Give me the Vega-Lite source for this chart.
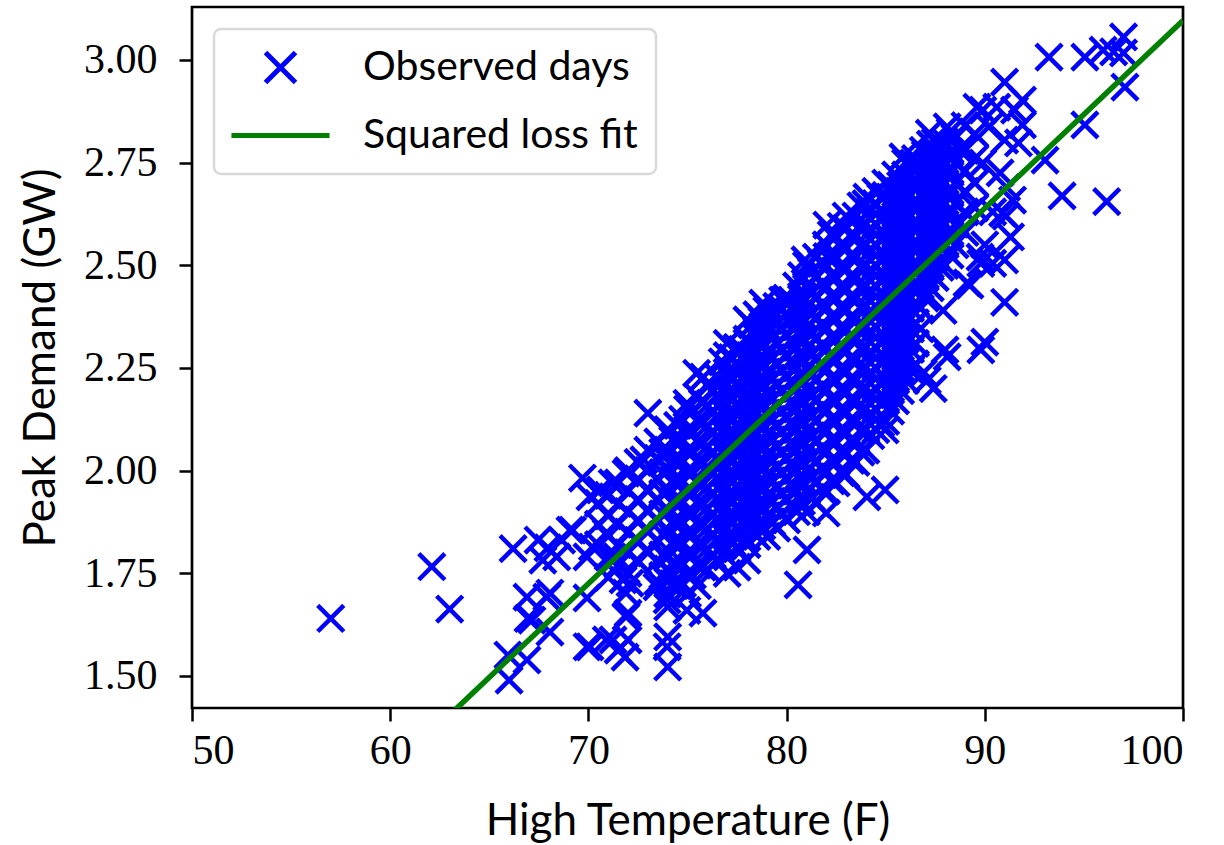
{
"$schema": "https://vega.github.io/schema/vega-lite/v6.json",
"width": 991, "height": 701,
"autosize": {"type": "none"},
"padding": {"left": 192, "top": 7, "right": 41, "bottom": 137},
"background": "white",
"config": {
 "view": {"stroke": "black", "strokeWidth": 2.7},
 "axis": {"labelFont": "Liberation Serif", "labelFontSize": 42, "labelColor": "black", "titleFont": "Lato", "titleFontSize": 44, "titleFontWeight": "normal", "titleColor": "black", "tickColor": "black", "tickWidth": 2.5, "tickSize": 13, "domain": false, "grid": false},
 "legend": {"orient": "top-left", "offset": 22, "strokeColor": "#d9d9d9", "strokeWidth": 2.5, "cornerRadius": 7, "fillColor": "white", "padding": 18, "labelFont": "Lato", "labelFontSize": 41, "labelColor": "black", "labelLimit": 500, "symbolSize": 900, "symbolStrokeWidth": 5, "symbolOffset": 28, "labelOffset": 62, "rowPadding": 21, "symbolFillColor": "transparent"}
},
"datasets": {
 "fit": [{"temp": 50, "demand": 0.811}, {"temp": 100, "demand": 3.096}],
 "obs": [
{"temp":57,"demand":1.64},{"temp":62.1,"demand":1.766},{"temp":63.0,"demand":1.663},{"temp":66.2,"demand":1.81},{"temp":66.9,"demand":1.692},{"temp":66.95,"demand":1.64},{"temp":67.9,"demand":1.692},{"temp":68.06,"demand":1.607},{"temp":65.94,"demand":1.551},{"temp":66.9,"demand":1.539},{"temp":66.0,"demand":1.49},{"temp":69.93,"demand":1.571},{"temp":67.96,"demand":1.812},{"temp":69.07,"demand":1.855},{"temp":69.7,"demand":1.982},{"temp":70.08,"demand":1.936},{"temp":69.93,"demand":1.79},{"temp":69.93,"demand":1.69},{"temp":67.46,"demand":1.831},{"temp":68.65,"demand":1.831},{"temp":69.2,"demand":1.855},{"temp":67.7,"demand":1.782},{"temp":68.4,"demand":1.79},{"temp":70.6,"demand":1.953},{"temp":71.2,"demand":1.97},{"temp":71.9,"demand":1.994},{"temp":72.8,"demand":2.026},{"temp":73.8,"demand":2.033},{"temp":67.15,"demand":1.636},{"temp":68.06,"demand":1.702},{"temp":70.9,"demand":1.588},{"temp":71.5,"demand":1.563},{"temp":72.0,"demand":1.588},{"temp":71.85,"demand":1.546},{"temp":71.9,"demand":1.644},{"temp":71.9,"demand":1.702},{"temp":71.2,"demand":1.79},{"temp":71.75,"demand":1.734},{"temp":72.45,"demand":1.782},{"temp":74.0,"demand":1.595},{"temp":74.0,"demand":1.522},{"temp":74.0,"demand":1.668},{"temp":70.2,"demand":1.814},{"temp":70.9,"demand":1.848},{"temp":73.0,"demand":2.14},{"temp":81.03,"demand":1.807},{"temp":80.58,"demand":1.722},{"temp":73.97,"demand":1.571},{"temp":72.0,"demand":1.653},{"temp":71.24,"demand":1.588},{"temp":70.08,"demand":1.571},{"temp":75.78,"demand":1.653},{"temp":73.97,"demand":1.685},{"temp":74.97,"demand":1.66},{"temp":73.46,"demand":1.717},{"temp":72.1,"demand":1.726},{"temp":71.44,"demand":1.79},{"temp":77.5,"demand":1.765},{"temp":77.0,"demand":1.75},{"temp":78.0,"demand":1.782},
{"temp":93.04,"demand":2.756},{"temp":93.9,"demand":2.669},{"temp":96.15,"demand":2.655},{"temp":91.07,"demand":2.62},{"temp":90.4,"demand":2.63},{"temp":90.0,"demand":2.55},{"temp":91.0,"demand":2.513},{"temp":89.76,"demand":2.52},{"temp":90.4,"demand":2.505},{"temp":89.25,"demand":2.452},{"temp":91.0,"demand":2.41},{"temp":87.9,"demand":2.39},{"temp":90.0,"demand":2.313},{"temp":87.99,"demand":2.294},{"temp":87.1,"demand":2.22},{"temp":87.4,"demand":2.2},{"temp":93.24,"demand":3.007},{"temp":95.05,"demand":3.007},{"temp":95.97,"demand":3.024},{"temp":97.0,"demand":3.056},{"temp":97.0,"demand":3.017},{"temp":96.5,"demand":3.02},{"temp":97.07,"demand":2.934},{"temp":95.05,"demand":2.842},{"temp":91.0,"demand":2.946},{"temp":91.9,"demand":2.902},{"temp":91.5,"demand":2.878},{"temp":90.6,"demand":2.885},{"temp":89.9,"demand":2.878},{"temp":89.6,"demand":2.885},{"temp":91.9,"demand":2.842},{"temp":87.2,"demand":2.822},{"temp":88.1,"demand":2.837},{"temp":90.2,"demand":2.837},{"temp":91.0,"demand":2.805},{"temp":91.7,"demand":2.798},{"temp":88.75,"demand":2.78},{"temp":87.4,"demand":2.764},{"temp":89.9,"demand":2.749},{"temp":90.77,"demand":2.725},{"temp":91.1,"demand":2.69},{"temp":90.9,"demand":2.627},{"temp":91.4,"demand":2.659},{"temp":91.3,"demand":2.569},{"temp":86.4,"demand":2.749},{"temp":84.97,"demand":2.099},{"temp":84.97,"demand":1.953},{"temp":84.05,"demand":1.936},{"temp":82.0,"demand":1.897},{"temp":88.1,"demand":2.277},{"temp":89.8,"demand":2.294},{"temp":89.1,"demand":2.457},{"temp":89.8,"demand":2.505},{"temp":86.9,"demand":2.238},{"temp":82.03,"demand":2.598},{"temp":80.93,"demand":2.513},{"temp":82.03,"demand":2.521},{"temp":85.87,"demand":2.764},{"temp":86.9,"demand":2.78},{"temp":84.05,"demand":2.666},
{"temp":80.83,"demand":2.424},{"temp":79.8,"demand":2.415},{"temp":78.8,"demand":2.408},{"temp":78.0,"demand":2.367},{"temp":77.0,"demand":2.31},{"temp":75.8,"demand":2.228},{"temp":74.97,"demand":2.164},{"temp":79.0,"demand":2.35},{"temp":80.2,"demand":2.374},{"temp":75.46,"demand":2.237},
{"temp":70.5,"demand":1.82},{"temp":70.5,"demand":1.87},{"temp":70.5,"demand":1.92},
{"temp":71,"demand":1.74},{"temp":71,"demand":1.79},{"temp":71,"demand":1.84},{"temp":71,"demand":1.89},{"temp":71,"demand":1.94},
{"temp":71.5,"demand":1.77},{"temp":71.5,"demand":1.82},{"temp":71.5,"demand":1.87},{"temp":71.5,"demand":1.92},{"temp":71.5,"demand":1.97},
{"temp":72,"demand":1.75},{"temp":72,"demand":1.8},{"temp":72,"demand":1.85},{"temp":72,"demand":1.9},{"temp":72,"demand":1.95},{"temp":72,"demand":2.0},
{"temp":72.5,"demand":1.78},{"temp":72.5,"demand":1.83},{"temp":72.5,"demand":1.88},{"temp":72.5,"demand":1.93},{"temp":72.5,"demand":1.98},{"temp":72.5,"demand":2.02},
{"temp":73,"demand":1.8},{"temp":73,"demand":1.85},{"temp":73,"demand":1.9},{"temp":73,"demand":1.95},{"temp":73,"demand":2.0},{"temp":73,"demand":2.05},
{"temp":73.5,"demand":1.73},{"temp":73.5,"demand":1.78},{"temp":73.5,"demand":1.83},{"temp":73.5,"demand":1.88},{"temp":73.5,"demand":1.93},{"temp":73.5,"demand":1.98},{"temp":73.5,"demand":2.03},{"temp":73.5,"demand":2.07},
{"temp":74,"demand":1.7},{"temp":74,"demand":1.73},{"temp":74,"demand":1.76},{"temp":74,"demand":1.79},{"temp":74,"demand":1.85},{"temp":74,"demand":1.9},{"temp":74,"demand":1.95},{"temp":74,"demand":2.0},{"temp":74,"demand":2.05},{"temp":74,"demand":2.1},
{"temp":74.5,"demand":1.72},{"temp":74.5,"demand":1.77},{"temp":74.5,"demand":1.82},{"temp":74.5,"demand":1.87},{"temp":74.5,"demand":1.92},{"temp":74.5,"demand":1.97},{"temp":74.5,"demand":2.02},{"temp":74.5,"demand":2.07},{"temp":74.5,"demand":2.11},
{"temp":75,"demand":1.7},{"temp":75,"demand":1.75},{"temp":75,"demand":1.8},{"temp":75,"demand":1.85},{"temp":75,"demand":1.9},{"temp":75,"demand":1.95},{"temp":75,"demand":2.0},{"temp":75,"demand":2.05},{"temp":75,"demand":2.1},{"temp":75,"demand":2.15},
{"temp":75.5,"demand":1.72},{"temp":75.5,"demand":1.77},{"temp":75.5,"demand":1.82},{"temp":75.5,"demand":1.87},{"temp":75.5,"demand":1.92},{"temp":75.5,"demand":1.97},{"temp":75.5,"demand":2.02},{"temp":75.5,"demand":2.07},{"temp":75.5,"demand":2.12},{"temp":75.5,"demand":2.18},
{"temp":76,"demand":1.76},{"temp":76,"demand":1.81},{"temp":76,"demand":1.86},{"temp":76,"demand":1.91},{"temp":76,"demand":1.96},{"temp":76,"demand":2.01},{"temp":76,"demand":2.06},{"temp":76,"demand":2.11},{"temp":76,"demand":2.16},{"temp":76,"demand":2.21},
{"temp":76.5,"demand":1.78},{"temp":76.5,"demand":1.83},{"temp":76.5,"demand":1.88},{"temp":76.5,"demand":1.93},{"temp":76.5,"demand":1.98},{"temp":76.5,"demand":2.03},{"temp":76.5,"demand":2.08},{"temp":76.5,"demand":2.13},{"temp":76.5,"demand":2.18},{"temp":76.5,"demand":2.23},
{"temp":77,"demand":1.79},{"temp":77,"demand":1.84},{"temp":77,"demand":1.89},{"temp":77,"demand":1.94},{"temp":77,"demand":1.99},{"temp":77,"demand":2.04},{"temp":77,"demand":2.09},{"temp":77,"demand":2.14},{"temp":77,"demand":2.19},{"temp":77,"demand":2.24},{"temp":77,"demand":2.28},
{"temp":77.5,"demand":1.81},{"temp":77.5,"demand":1.86},{"temp":77.5,"demand":1.91},{"temp":77.5,"demand":1.96},{"temp":77.5,"demand":2.01},{"temp":77.5,"demand":2.06},{"temp":77.5,"demand":2.11},{"temp":77.5,"demand":2.16},{"temp":77.5,"demand":2.21},{"temp":77.5,"demand":2.26},{"temp":77.5,"demand":2.3},
{"temp":78,"demand":1.82},{"temp":78,"demand":1.87},{"temp":78,"demand":1.92},{"temp":78,"demand":1.97},{"temp":78,"demand":2.02},{"temp":78,"demand":2.07},{"temp":78,"demand":2.12},{"temp":78,"demand":2.17},{"temp":78,"demand":2.22},{"temp":78,"demand":2.27},{"temp":78,"demand":2.32},
{"temp":78.5,"demand":1.84},{"temp":78.5,"demand":1.89},{"temp":78.5,"demand":1.94},{"temp":78.5,"demand":1.99},{"temp":78.5,"demand":2.04},{"temp":78.5,"demand":2.09},{"temp":78.5,"demand":2.14},{"temp":78.5,"demand":2.19},{"temp":78.5,"demand":2.24},{"temp":78.5,"demand":2.29},{"temp":78.5,"demand":2.34},{"temp":78.5,"demand":2.38},
{"temp":79,"demand":1.84},{"temp":79,"demand":1.89},{"temp":79,"demand":1.94},{"temp":79,"demand":1.99},{"temp":79,"demand":2.04},{"temp":79,"demand":2.09},{"temp":79,"demand":2.14},{"temp":79,"demand":2.19},{"temp":79,"demand":2.24},{"temp":79,"demand":2.29},{"temp":79,"demand":2.34},{"temp":79,"demand":2.39},
{"temp":79.5,"demand":1.86},{"temp":79.5,"demand":1.91},{"temp":79.5,"demand":1.96},{"temp":79.5,"demand":2.01},{"temp":79.5,"demand":2.06},{"temp":79.5,"demand":2.11},{"temp":79.5,"demand":2.16},{"temp":79.5,"demand":2.21},{"temp":79.5,"demand":2.26},{"temp":79.5,"demand":2.31},{"temp":79.5,"demand":2.36},{"temp":79.5,"demand":2.4},
{"temp":80,"demand":1.88},{"temp":80,"demand":1.93},{"temp":80,"demand":1.98},{"temp":80,"demand":2.03},{"temp":80,"demand":2.08},{"temp":80,"demand":2.13},{"temp":80,"demand":2.18},{"temp":80,"demand":2.23},{"temp":80,"demand":2.28},{"temp":80,"demand":2.33},{"temp":80,"demand":2.38},{"temp":80,"demand":2.42},
{"temp":80.5,"demand":1.9},{"temp":80.5,"demand":1.95},{"temp":80.5,"demand":2.0},{"temp":80.5,"demand":2.05},{"temp":80.5,"demand":2.1},{"temp":80.5,"demand":2.15},{"temp":80.5,"demand":2.2},{"temp":80.5,"demand":2.25},{"temp":80.5,"demand":2.3},{"temp":80.5,"demand":2.35},{"temp":80.5,"demand":2.4},{"temp":80.5,"demand":2.45},
{"temp":81,"demand":1.9},{"temp":81,"demand":1.95},{"temp":81,"demand":2.0},{"temp":81,"demand":2.05},{"temp":81,"demand":2.1},{"temp":81,"demand":2.15},{"temp":81,"demand":2.2},{"temp":81,"demand":2.25},{"temp":81,"demand":2.3},{"temp":81,"demand":2.35},{"temp":81,"demand":2.4},{"temp":81,"demand":2.45},{"temp":81,"demand":2.5},
{"temp":81.5,"demand":1.92},{"temp":81.5,"demand":1.97},{"temp":81.5,"demand":2.02},{"temp":81.5,"demand":2.07},{"temp":81.5,"demand":2.12},{"temp":81.5,"demand":2.17},{"temp":81.5,"demand":2.22},{"temp":81.5,"demand":2.27},{"temp":81.5,"demand":2.32},{"temp":81.5,"demand":2.37},{"temp":81.5,"demand":2.42},{"temp":81.5,"demand":2.47},{"temp":81.5,"demand":2.52},
{"temp":82,"demand":1.95},{"temp":82,"demand":2.0},{"temp":82,"demand":2.05},{"temp":82,"demand":2.1},{"temp":82,"demand":2.15},{"temp":82,"demand":2.2},{"temp":82,"demand":2.25},{"temp":82,"demand":2.3},{"temp":82,"demand":2.35},{"temp":82,"demand":2.4},{"temp":82,"demand":2.45},{"temp":82,"demand":2.5},{"temp":82,"demand":2.55},
{"temp":82.5,"demand":1.97},{"temp":82.5,"demand":2.02},{"temp":82.5,"demand":2.07},{"temp":82.5,"demand":2.12},{"temp":82.5,"demand":2.17},{"temp":82.5,"demand":2.22},{"temp":82.5,"demand":2.27},{"temp":82.5,"demand":2.32},{"temp":82.5,"demand":2.37},{"temp":82.5,"demand":2.42},{"temp":82.5,"demand":2.47},{"temp":82.5,"demand":2.52},{"temp":82.5,"demand":2.57},
{"temp":83,"demand":1.99},{"temp":83,"demand":2.04},{"temp":83,"demand":2.09},{"temp":83,"demand":2.14},{"temp":83,"demand":2.19},{"temp":83,"demand":2.24},{"temp":83,"demand":2.29},{"temp":83,"demand":2.34},{"temp":83,"demand":2.39},{"temp":83,"demand":2.44},{"temp":83,"demand":2.49},{"temp":83,"demand":2.54},{"temp":83,"demand":2.59},{"temp":83,"demand":2.62},
{"temp":83.5,"demand":2.02},{"temp":83.5,"demand":2.07},{"temp":83.5,"demand":2.12},{"temp":83.5,"demand":2.17},{"temp":83.5,"demand":2.22},{"temp":83.5,"demand":2.27},{"temp":83.5,"demand":2.32},{"temp":83.5,"demand":2.37},{"temp":83.5,"demand":2.42},{"temp":83.5,"demand":2.47},{"temp":83.5,"demand":2.52},{"temp":83.5,"demand":2.57},{"temp":83.5,"demand":2.62},
{"temp":84,"demand":2.05},{"temp":84,"demand":2.1},{"temp":84,"demand":2.15},{"temp":84,"demand":2.2},{"temp":84,"demand":2.25},{"temp":84,"demand":2.3},{"temp":84,"demand":2.35},{"temp":84,"demand":2.4},{"temp":84,"demand":2.45},{"temp":84,"demand":2.5},{"temp":84,"demand":2.55},{"temp":84,"demand":2.6},{"temp":84,"demand":2.65},
{"temp":84.5,"demand":2.1},{"temp":84.5,"demand":2.15},{"temp":84.5,"demand":2.2},{"temp":84.5,"demand":2.25},{"temp":84.5,"demand":2.3},{"temp":84.5,"demand":2.35},{"temp":84.5,"demand":2.4},{"temp":84.5,"demand":2.45},{"temp":84.5,"demand":2.5},{"temp":84.5,"demand":2.55},{"temp":84.5,"demand":2.6},{"temp":84.5,"demand":2.65},{"temp":84.5,"demand":2.68},
{"temp":85,"demand":2.12},{"temp":85,"demand":2.17},{"temp":85,"demand":2.22},{"temp":85,"demand":2.27},{"temp":85,"demand":2.32},{"temp":85,"demand":2.37},{"temp":85,"demand":2.42},{"temp":85,"demand":2.47},{"temp":85,"demand":2.52},{"temp":85,"demand":2.57},{"temp":85,"demand":2.62},{"temp":85,"demand":2.67},{"temp":85,"demand":2.7},
{"temp":85.5,"demand":2.17},{"temp":85.5,"demand":2.22},{"temp":85.5,"demand":2.27},{"temp":85.5,"demand":2.32},{"temp":85.5,"demand":2.37},{"temp":85.5,"demand":2.42},{"temp":85.5,"demand":2.47},{"temp":85.5,"demand":2.52},{"temp":85.5,"demand":2.57},{"temp":85.5,"demand":2.62},{"temp":85.5,"demand":2.67},{"temp":85.5,"demand":2.72},
{"temp":86,"demand":2.22},{"temp":86,"demand":2.27},{"temp":86,"demand":2.32},{"temp":86,"demand":2.37},{"temp":86,"demand":2.42},{"temp":86,"demand":2.47},{"temp":86,"demand":2.52},{"temp":86,"demand":2.57},{"temp":86,"demand":2.62},{"temp":86,"demand":2.67},{"temp":86,"demand":2.72},{"temp":86,"demand":2.75},
{"temp":86.5,"demand":2.26},{"temp":86.5,"demand":2.31},{"temp":86.5,"demand":2.36},{"temp":86.5,"demand":2.41},{"temp":86.5,"demand":2.46},{"temp":86.5,"demand":2.51},{"temp":86.5,"demand":2.56},{"temp":86.5,"demand":2.61},{"temp":86.5,"demand":2.66},{"temp":86.5,"demand":2.71},{"temp":86.5,"demand":2.76},
{"temp":87,"demand":2.42},{"temp":87,"demand":2.47},{"temp":87,"demand":2.52},{"temp":87,"demand":2.57},{"temp":87,"demand":2.62},{"temp":87,"demand":2.67},{"temp":87,"demand":2.72},{"temp":87,"demand":2.77},
{"temp":87.5,"demand":2.47},{"temp":87.5,"demand":2.52},{"temp":87.5,"demand":2.57},{"temp":87.5,"demand":2.62},{"temp":87.5,"demand":2.67},{"temp":87.5,"demand":2.72},{"temp":87.5,"demand":2.77},{"temp":87.5,"demand":2.8},
{"temp":88,"demand":2.5},{"temp":88,"demand":2.55},{"temp":88,"demand":2.6},{"temp":88,"demand":2.65},{"temp":88,"demand":2.7},{"temp":88,"demand":2.75},{"temp":88,"demand":2.8},
{"temp":88.5,"demand":2.55},{"temp":88.5,"demand":2.6},{"temp":88.5,"demand":2.65},{"temp":88.5,"demand":2.7},{"temp":88.5,"demand":2.75},{"temp":88.5,"demand":2.81},
{"temp":89,"demand":2.58},{"temp":89,"demand":2.63},{"temp":89,"demand":2.68},{"temp":89,"demand":2.73},{"temp":89,"demand":2.78},{"temp":89,"demand":2.84},
{"temp":89.5,"demand":2.64},{"temp":89.5,"demand":2.7},{"temp":89.5,"demand":2.76},{"temp":89.5,"demand":2.82},
{"temp":73.75,"demand":1.745},{"temp":73.75,"demand":1.795},{"temp":73.75,"demand":1.845},{"temp":73.75,"demand":1.895},{"temp":73.75,"demand":1.945},{"temp":73.75,"demand":1.995},{"temp":73.75,"demand":2.045},
{"temp":74.25,"demand":1.725},{"temp":74.25,"demand":1.775},{"temp":74.25,"demand":1.825},{"temp":74.25,"demand":1.875},{"temp":74.25,"demand":1.925},{"temp":74.25,"demand":1.975},{"temp":74.25,"demand":2.025},{"temp":74.25,"demand":2.075},
{"temp":74.75,"demand":1.725},{"temp":74.75,"demand":1.775},{"temp":74.75,"demand":1.825},{"temp":74.75,"demand":1.875},{"temp":74.75,"demand":1.925},{"temp":74.75,"demand":1.975},{"temp":74.75,"demand":2.025},{"temp":74.75,"demand":2.075},{"temp":74.75,"demand":2.125},
{"temp":75.25,"demand":1.745},{"temp":75.25,"demand":1.795},{"temp":75.25,"demand":1.845},{"temp":75.25,"demand":1.895},{"temp":75.25,"demand":1.945},{"temp":75.25,"demand":1.995},{"temp":75.25,"demand":2.045},{"temp":75.25,"demand":2.095},{"temp":75.25,"demand":2.145},
{"temp":75.75,"demand":1.765},{"temp":75.75,"demand":1.815},{"temp":75.75,"demand":1.865},{"temp":75.75,"demand":1.915},{"temp":75.75,"demand":1.965},{"temp":75.75,"demand":2.015},{"temp":75.75,"demand":2.065},{"temp":75.75,"demand":2.115},{"temp":75.75,"demand":2.165},
{"temp":76.25,"demand":1.795},{"temp":76.25,"demand":1.845},{"temp":76.25,"demand":1.895},{"temp":76.25,"demand":1.945},{"temp":76.25,"demand":1.995},{"temp":76.25,"demand":2.045},{"temp":76.25,"demand":2.095},{"temp":76.25,"demand":2.145},{"temp":76.25,"demand":2.195},
{"temp":76.75,"demand":1.815},{"temp":76.75,"demand":1.865},{"temp":76.75,"demand":1.915},{"temp":76.75,"demand":1.965},{"temp":76.75,"demand":2.015},{"temp":76.75,"demand":2.065},{"temp":76.75,"demand":2.115},{"temp":76.75,"demand":2.165},{"temp":76.75,"demand":2.215},{"temp":76.75,"demand":2.265},
{"temp":77.25,"demand":1.825},{"temp":77.25,"demand":1.875},{"temp":77.25,"demand":1.925},{"temp":77.25,"demand":1.975},{"temp":77.25,"demand":2.025},{"temp":77.25,"demand":2.075},{"temp":77.25,"demand":2.125},{"temp":77.25,"demand":2.175},{"temp":77.25,"demand":2.225},{"temp":77.25,"demand":2.275},
{"temp":77.75,"demand":1.845},{"temp":77.75,"demand":1.895},{"temp":77.75,"demand":1.945},{"temp":77.75,"demand":1.995},{"temp":77.75,"demand":2.045},{"temp":77.75,"demand":2.095},{"temp":77.75,"demand":2.145},{"temp":77.75,"demand":2.195},{"temp":77.75,"demand":2.245},{"temp":77.75,"demand":2.295},
{"temp":78.25,"demand":1.855},{"temp":78.25,"demand":1.905},{"temp":78.25,"demand":1.955},{"temp":78.25,"demand":2.005},{"temp":78.25,"demand":2.055},{"temp":78.25,"demand":2.105},{"temp":78.25,"demand":2.155},{"temp":78.25,"demand":2.205},{"temp":78.25,"demand":2.255},{"temp":78.25,"demand":2.305},{"temp":78.25,"demand":2.355},
{"temp":78.75,"demand":1.865},{"temp":78.75,"demand":1.915},{"temp":78.75,"demand":1.965},{"temp":78.75,"demand":2.015},{"temp":78.75,"demand":2.065},{"temp":78.75,"demand":2.115},{"temp":78.75,"demand":2.165},{"temp":78.75,"demand":2.215},{"temp":78.75,"demand":2.265},{"temp":78.75,"demand":2.315},{"temp":78.75,"demand":2.365},
{"temp":79.25,"demand":1.875},{"temp":79.25,"demand":1.925},{"temp":79.25,"demand":1.975},{"temp":79.25,"demand":2.025},{"temp":79.25,"demand":2.075},{"temp":79.25,"demand":2.125},{"temp":79.25,"demand":2.175},{"temp":79.25,"demand":2.225},{"temp":79.25,"demand":2.275},{"temp":79.25,"demand":2.325},{"temp":79.25,"demand":2.375},
{"temp":79.75,"demand":1.895},{"temp":79.75,"demand":1.945},{"temp":79.75,"demand":1.995},{"temp":79.75,"demand":2.045},{"temp":79.75,"demand":2.095},{"temp":79.75,"demand":2.145},{"temp":79.75,"demand":2.195},{"temp":79.75,"demand":2.245},{"temp":79.75,"demand":2.295},{"temp":79.75,"demand":2.345},{"temp":79.75,"demand":2.395},
{"temp":80.25,"demand":1.915},{"temp":80.25,"demand":1.965},{"temp":80.25,"demand":2.015},{"temp":80.25,"demand":2.065},{"temp":80.25,"demand":2.115},{"temp":80.25,"demand":2.165},{"temp":80.25,"demand":2.215},{"temp":80.25,"demand":2.265},{"temp":80.25,"demand":2.315},{"temp":80.25,"demand":2.365},{"temp":80.25,"demand":2.415},
{"temp":80.75,"demand":1.925},{"temp":80.75,"demand":1.975},{"temp":80.75,"demand":2.025},{"temp":80.75,"demand":2.075},{"temp":80.75,"demand":2.125},{"temp":80.75,"demand":2.175},{"temp":80.75,"demand":2.225},{"temp":80.75,"demand":2.275},{"temp":80.75,"demand":2.325},{"temp":80.75,"demand":2.375},{"temp":80.75,"demand":2.425},{"temp":80.75,"demand":2.475},
{"temp":81.25,"demand":1.935},{"temp":81.25,"demand":1.985},{"temp":81.25,"demand":2.035},{"temp":81.25,"demand":2.085},{"temp":81.25,"demand":2.135},{"temp":81.25,"demand":2.185},{"temp":81.25,"demand":2.235},{"temp":81.25,"demand":2.285},{"temp":81.25,"demand":2.335},{"temp":81.25,"demand":2.385},{"temp":81.25,"demand":2.435},{"temp":81.25,"demand":2.485},
{"temp":81.75,"demand":1.955},{"temp":81.75,"demand":2.005},{"temp":81.75,"demand":2.055},{"temp":81.75,"demand":2.105},{"temp":81.75,"demand":2.155},{"temp":81.75,"demand":2.205},{"temp":81.75,"demand":2.255},{"temp":81.75,"demand":2.305},{"temp":81.75,"demand":2.355},{"temp":81.75,"demand":2.405},{"temp":81.75,"demand":2.455},{"temp":81.75,"demand":2.505},
{"temp":82.25,"demand":1.975},{"temp":82.25,"demand":2.025},{"temp":82.25,"demand":2.075},{"temp":82.25,"demand":2.125},{"temp":82.25,"demand":2.175},{"temp":82.25,"demand":2.225},{"temp":82.25,"demand":2.275},{"temp":82.25,"demand":2.325},{"temp":82.25,"demand":2.375},{"temp":82.25,"demand":2.425},{"temp":82.25,"demand":2.475},{"temp":82.25,"demand":2.525},{"temp":82.25,"demand":2.575},
{"temp":82.75,"demand":1.995},{"temp":82.75,"demand":2.045},{"temp":82.75,"demand":2.095},{"temp":82.75,"demand":2.145},{"temp":82.75,"demand":2.195},{"temp":82.75,"demand":2.245},{"temp":82.75,"demand":2.295},{"temp":82.75,"demand":2.345},{"temp":82.75,"demand":2.395},{"temp":82.75,"demand":2.445},{"temp":82.75,"demand":2.495},{"temp":82.75,"demand":2.545},{"temp":82.75,"demand":2.595},
{"temp":83.25,"demand":2.025},{"temp":83.25,"demand":2.075},{"temp":83.25,"demand":2.125},{"temp":83.25,"demand":2.175},{"temp":83.25,"demand":2.225},{"temp":83.25,"demand":2.275},{"temp":83.25,"demand":2.325},{"temp":83.25,"demand":2.375},{"temp":83.25,"demand":2.425},{"temp":83.25,"demand":2.475},{"temp":83.25,"demand":2.525},{"temp":83.25,"demand":2.575},
{"temp":83.75,"demand":2.045},{"temp":83.75,"demand":2.095},{"temp":83.75,"demand":2.145},{"temp":83.75,"demand":2.195},{"temp":83.75,"demand":2.245},{"temp":83.75,"demand":2.295},{"temp":83.75,"demand":2.345},{"temp":83.75,"demand":2.395},{"temp":83.75,"demand":2.445},{"temp":83.75,"demand":2.495},{"temp":83.75,"demand":2.545},{"temp":83.75,"demand":2.595},{"temp":83.75,"demand":2.645},
{"temp":84.25,"demand":2.085},{"temp":84.25,"demand":2.135},{"temp":84.25,"demand":2.185},{"temp":84.25,"demand":2.235},{"temp":84.25,"demand":2.285},{"temp":84.25,"demand":2.335},{"temp":84.25,"demand":2.385},{"temp":84.25,"demand":2.435},{"temp":84.25,"demand":2.485},{"temp":84.25,"demand":2.535},{"temp":84.25,"demand":2.585},{"temp":84.25,"demand":2.635},
{"temp":84.75,"demand":2.115},{"temp":84.75,"demand":2.165},{"temp":84.75,"demand":2.215},{"temp":84.75,"demand":2.265},{"temp":84.75,"demand":2.315},{"temp":84.75,"demand":2.365},{"temp":84.75,"demand":2.415},{"temp":84.75,"demand":2.465},{"temp":84.75,"demand":2.515},{"temp":84.75,"demand":2.565},{"temp":84.75,"demand":2.615},{"temp":84.75,"demand":2.665},
{"temp":85.25,"demand":2.145},{"temp":85.25,"demand":2.195},{"temp":85.25,"demand":2.245},{"temp":85.25,"demand":2.295},{"temp":85.25,"demand":2.345},{"temp":85.25,"demand":2.395},{"temp":85.25,"demand":2.445},{"temp":85.25,"demand":2.495},{"temp":85.25,"demand":2.545},{"temp":85.25,"demand":2.595},{"temp":85.25,"demand":2.645},{"temp":85.25,"demand":2.695},
{"temp":85.75,"demand":2.195},{"temp":85.75,"demand":2.245},{"temp":85.75,"demand":2.295},{"temp":85.75,"demand":2.345},{"temp":85.75,"demand":2.395},{"temp":85.75,"demand":2.445},{"temp":85.75,"demand":2.495},{"temp":85.75,"demand":2.545},{"temp":85.75,"demand":2.595},{"temp":85.75,"demand":2.645},{"temp":85.75,"demand":2.695},
{"temp":86.25,"demand":2.245},{"temp":86.25,"demand":2.295},{"temp":86.25,"demand":2.345},{"temp":86.25,"demand":2.395},{"temp":86.25,"demand":2.445},{"temp":86.25,"demand":2.495},{"temp":86.25,"demand":2.545},{"temp":86.25,"demand":2.595},{"temp":86.25,"demand":2.645},{"temp":86.25,"demand":2.695},{"temp":86.25,"demand":2.745},
{"temp":86.75,"demand":2.345},{"temp":86.75,"demand":2.395},{"temp":86.75,"demand":2.445},{"temp":86.75,"demand":2.495},{"temp":86.75,"demand":2.545},{"temp":86.75,"demand":2.595},{"temp":86.75,"demand":2.645},{"temp":86.75,"demand":2.695},{"temp":86.75,"demand":2.745},
{"temp":87.25,"demand":2.445},{"temp":87.25,"demand":2.495},{"temp":87.25,"demand":2.545},{"temp":87.25,"demand":2.595},{"temp":87.25,"demand":2.645},{"temp":87.25,"demand":2.695},{"temp":87.25,"demand":2.745},{"temp":87.25,"demand":2.795},
{"temp":87.75,"demand":2.495},{"temp":87.75,"demand":2.545},{"temp":87.75,"demand":2.595},{"temp":87.75,"demand":2.645},{"temp":87.75,"demand":2.695},{"temp":87.75,"demand":2.745},{"temp":87.75,"demand":2.795},
{"temp":88.25,"demand":2.525},{"temp":88.25,"demand":2.575},{"temp":88.25,"demand":2.625},{"temp":88.25,"demand":2.675},{"temp":88.25,"demand":2.725},{"temp":88.25,"demand":2.775},{"temp":88.25,"demand":2.825}
 ]
},
"layer": [
 {
  "data": {"name": "obs"},
  "mark": {"type": "point", "filled": false, "strokeWidth": 4.5, "size": 680, "opacity": 1},
  "encoding": {
   "x": {"field": "temp", "type": "quantitative", "scale": {"domain": [50, 100], "nice": false, "zero": false},
         "axis": {"title": "High Temperature (F)", "values": [50, 60, 70, 80, 90, 100], "labelPadding": 9, "titlePadding": 28}},
   "y": {"field": "demand", "type": "quantitative", "scale": {"domain": [1.422, 3.129], "nice": false, "zero": false},
         "axis": {"title": "Peak Demand (GW)", "values": [1.5, 1.75, 2, 2.25, 2.5, 2.75, 3], "format": ".2f", "labelPadding": 22, "titlePadding": 20}},
   "color": {"datum": "Observed days", "type": "nominal", "scale": {"domain": ["Observed days", "Squared loss fit"], "range": ["#0000ff", "#008000"]}, "legend": {"title": null}},
   "shape": {"datum": "Observed days", "type": "nominal", "scale": {"domain": ["Observed days", "Squared loss fit"], "range": ["M-1,-1L1,1M-1,1L1,-1", "M-3.27,0L3.27,0"]}, "legend": {"title": null}}
  }
 },
 {
  "data": {"name": "fit"},
  "mark": {"type": "line", "strokeWidth": 5.5, "clip": true},
  "encoding": {
   "x": {"field": "temp", "type": "quantitative"},
   "y": {"field": "demand", "type": "quantitative"},
   "color": {"datum": "Squared loss fit", "type": "nominal"}
  }
 }
]
}
